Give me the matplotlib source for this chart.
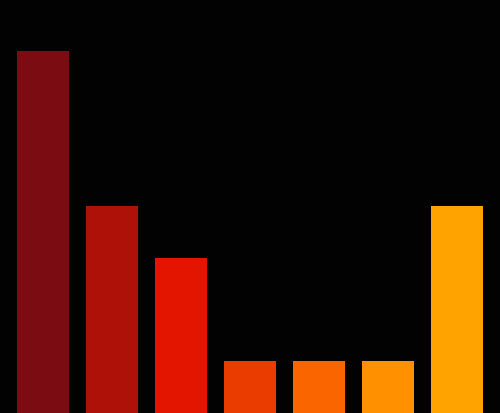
import matplotlib
matplotlib.use("Agg")
import matplotlib.pyplot as plt

# bar values
categories = ["a", "b", "c", "d", "e", "f", "g"]
values = [7, 4, 3, 1, 1, 1, 4]
colors = ["#7b0c12", "#ad1107", "#e41500", "#ea3c00", "#fb6500", "#ff9100", "#ffa300"]

fig = plt.figure(figsize=(5.0, 4.14), dpi=100, facecolor="#030203")
ax = fig.add_axes([0, 0, 1, 1])
ax.set_facecolor("#030203")

pos = list(range(len(categories)))
ax.bar(pos, values, width=0.75, color=colors, linewidth=0)

ax.set_xlim(-0.623, 6.623)
ax.set_ylim(0, 8)
ax.axis("off")

fig.savefig("out.png", dpi=100, facecolor=fig.get_facecolor())
